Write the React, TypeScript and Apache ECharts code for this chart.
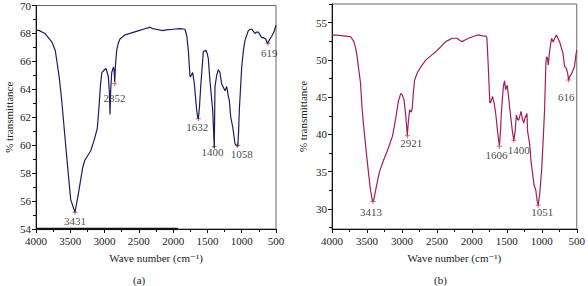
import React, { useEffect, useRef } from "react";
import * as echarts from "echarts";

// Spectrum (a)
const waveA: number[] = [4000,3950,3870,3770,3720,3698,3660,3640,3625,3560,3494,3431,3383,3319,3290,3202,3150,3106,3080,3060,3040,3000,2979,2945,2930,2921,2912,2896,2870,2860,2852,2840,2823,2800,2775,2700,2629,2500,2400,2367,2337,2300,2250,2200,2148,2100,2000,1900,1827,1800,1779,1754,1735,1715,1691,1657,1642,1632,1615,1598,1560,1521,1500,1487,1463,1423,1400,1390,1365,1341,1317,1293,1244,1219,1195,1181,1160,1131,1098,1080,1058,1045,1035,1000,975,952,904,879,855,806,781,757,709,685,650,636,619,600,563,530,500];
const transA: number[] = [68.25,68.2,68.0,67.4,66.8,66.1,64.8,63.9,63.2,59.6,56.1,55.2,56.5,58.4,58.9,59.6,60.4,61.2,62.8,64.3,65.2,65.4,65.5,64.9,63.8,62.2,63.8,65.2,65.6,65.3,64.5,65.8,66.8,67.3,67.6,67.9,68.0,68.2,68.35,68.4,68.45,68.35,68.3,68.25,68.2,68.25,68.3,68.35,68.3,67.8,66.8,64.9,65.0,65.2,64.4,62.5,62.0,61.9,62.8,64.2,66.7,66.8,66.5,66.2,64.6,62.5,59.8,64.2,65.0,65.4,65.2,64.4,63.9,64.2,63.5,63.2,62.0,61.3,60.1,60.0,59.9,61.0,62.5,65.6,66.8,67.5,68.2,68.3,68.3,68.0,68.1,68.1,67.7,67.7,67.6,67.4,67.3,67.5,67.8,68.1,68.6];

// Spectrum (b)
const waveB: number[] = [4000,3900,3800,3733,3687,3660,3640,3615,3592,3570,3546,3520,3480,3450,3420,3400,3370,3321,3260,3204,3134,3086,3050,3016,2995,2970,2945,2923,2910,2890,2865,2853,2835,2819,2773,2720,2656,2580,2516,2450,2375,2281,2211,2170,2140,2090,2046,1960,1906,1840,1800,1785,1765,1743,1729,1705,1681,1658,1624,1606,1590,1578,1550,1532,1518,1494,1480,1456,1423,1400,1380,1363,1345,1329,1297,1280,1259,1240,1212,1203,1175,1166,1156,1133,1110,1086,1065,1051,1030,1002,978,960,941,931,917,907,890,861,838,815,791,744,720,697,674,650,630,617,600,580,533,511,500];
const transB: number[] = [53.35,53.3,53.2,53.1,52.45,51.5,50.4,48.5,46.9,43.5,41.0,38.5,35.0,32.5,31.0,31.3,32.8,35.0,36.6,37.9,39.8,42.3,44.5,45.5,45.3,44.6,42.5,39.9,41.5,43.3,43.0,43.5,45.8,47.3,48.4,49.2,50.0,50.6,51.1,51.7,52.45,52.9,52.9,52.6,52.45,52.7,52.9,53.2,53.35,53.2,53.2,53.0,49.1,44.2,44.3,45.1,44.2,42.7,39.7,38.5,40.5,42.9,46.4,47.2,46.0,46.6,45.5,43.3,40.6,39.2,40.5,42.6,42.0,41.9,43.1,42.2,41.5,42.2,42.8,40.4,38.8,37.9,36.6,34.8,33.2,32.5,31.0,30.5,32.0,35.2,39.7,43.3,49.6,50.4,50.2,49.3,51.0,52.9,52.4,52.9,53.35,52.4,51.6,50.9,49.1,48.9,48.2,47.3,47.8,48.0,49.1,50.7,51.3];

// Peak markers and labels
const peaksA: string[] = ["3431", "2852", "1632", "1400", "1058", "619"];
const peakXA: number[] = [3431, 2852, 1632, 1400, 1058, 619];
const peakYA: number[] = [55.2, 64.4, 61.9, 59.9, 60.0, 67.3];
const labelXA: number[] = [3431, 2856, 1650, 1425, 1000, 600];
const labelYA: number[] = [54.6, 63.4, 61.3, 59.5, 59.4, 66.6];

const peaksB: string[] = ["3413", "2921", "1606", "1400", "1051", "616"];
const peakXB: number[] = [3413, 2921, 1606, 1400, 1051, 616];
const peakYB: number[] = [31.0, 39.8, 38.4, 39.2, 30.5, 47.3];
const labelXB: number[] = [3443, 2867, 1648, 1329, 993, 650];
const labelYB: number[] = [29.6, 38.8, 37.2, 37.9, 29.6, 45.0];

const yTicksB: number[] = [30, 35, 40, 45, 50, 55];
const yMinorB: number[] = [27.5, 32.5, 37.5, 42.5, 47.5, 52.5, 57.5];

const SERIF = "'Liberation Serif', 'DejaVu Serif', serif";
const PLUS = "path://M2,0H3V2H5V3H3V5H2V3H0V2H2Z";

export default function App() {
  const ref = useRef<HTMLDivElement>(null);
  useEffect(() => {
    if (!ref.current) return;
    const chart = echarts.init(ref.current, null, { renderer: "svg" });
    const zip = (a: number[], b: number[]) => a.map((v, i) => [v, b[i]]);
    const plain = (v: number) => String(v);
    const xAxisBase = (gi: number) => ({
      type: "value",
      gridIndex: gi,
      min: 500,
      max: 4000,
      interval: 500,
      inverse: true,
      name: "Wave number (cm\u207B\u00B9)",
      nameLocation: "middle",
      nameGap: 23,
      nameTextStyle: { fontFamily: SERIF, fontSize: 11, color: "#222" },
      axisLine: { lineStyle: { color: "#111", width: 1 } },
      axisTick: { length: 4, lineStyle: { color: "#111" } },
      minorTick: { show: true, splitNumber: 2, length: 3, lineStyle: { color: "#111" } },
      axisLabel: { fontFamily: SERIF, fontSize: 11, color: "#222", margin: 6, formatter: plain },
      splitLine: { show: false },
    });
    const option: any = {
      animation: false,
      grid: [
        { left: 36, right: 312, top: 5, bottom: 57, show: true, borderColor: "#666", borderWidth: 1 },
        { left: 332, right: 7, top: 4, bottom: 57, show: true, borderColor: "#666", borderWidth: 1 },
      ],
      xAxis: [xAxisBase(0), xAxisBase(1)],
      yAxis: [
        {
          type: "value",
          gridIndex: 0,
          position: "left",
          min: 54,
          max: 70,
          interval: 2,
          name: "% transmittance",
          nameLocation: "middle",
          nameGap: 22,
          nameTextStyle: { fontFamily: SERIF, fontSize: 11, color: "#222" },
          axisLine: { show: true, lineStyle: { color: "#111" } },
          axisTick: { show: true, length: 4, lineStyle: { color: "#111" } },
          minorTick: { show: true, splitNumber: 2, length: 3, lineStyle: { color: "#111" } },
          axisLabel: { fontFamily: SERIF, fontSize: 11, color: "#222", margin: 5, formatter: plain },
          splitLine: { show: false },
        },
        {
          type: "value",
          gridIndex: 1,
          position: "left",
          min: 27.3,
          max: 57.5,
          name: "% transmittance",
          nameLocation: "middle",
          nameGap: 24,
          nameTextStyle: { fontFamily: SERIF, fontSize: 11, color: "#222" },
          axisLine: { show: true, lineStyle: { color: "#111" } },
          axisTick: { show: true, length: 4, customValues: yTicksB, lineStyle: { color: "#111" } },
          axisLabel: { fontFamily: SERIF, fontSize: 11, color: "#222", margin: 5, customValues: yTicksB, formatter: plain },
          splitLine: { show: false },
        },
        {
          type: "value",
          gridIndex: 1,
          position: "left",
          offset: 0,
          min: 27.3,
          max: 57.5,
          axisLine: { show: false },
          axisTick: { show: true, length: 3, customValues: yMinorB, lineStyle: { color: "#111" } },
          axisLabel: { show: false, customValues: yMinorB },
          splitLine: { show: false },
        },
      ],
      graphic: [
        { type: "text", left: 133, top: 274, style: { text: "(a)", font: `11px ${SERIF}`, fill: "#222" } },
        { type: "text", left: 434, top: 274, style: { text: "(b)", font: `11px ${SERIF}`, fill: "#222" } },
      ],
      series: [
        {
          type: "line",
          xAxisIndex: 0,
          yAxisIndex: 0,
          data: [[4000, 54], [1930, 54]],
          symbol: "none",
          lineStyle: { color: "#111", width: 2.5 },
          silent: true,
        },
        {
          type: "line",
          xAxisIndex: 0,
          yAxisIndex: 0,
          data: zip(waveA, transA),
          symbol: "none",
          lineStyle: { color: "#1d1d5e", width: 1.2 },
        },
        {
          type: "line",
          xAxisIndex: 1,
          yAxisIndex: 1,
          data: zip(waveB, transB),
          symbol: "none",
          lineStyle: { color: "#a11d5c", width: 1.2 },
        },
        {
          type: "scatter",
          xAxisIndex: 0,
          yAxisIndex: 0,
          symbol: PLUS,
          symbolSize: 5,
          itemStyle: { color: "#d83a3a" },
          data: zip(peakXA, peakYA),
        },
        {
          type: "scatter",
          xAxisIndex: 1,
          yAxisIndex: 1,
          symbol: PLUS,
          symbolSize: 5,
          itemStyle: { color: "#d83a3a" },
          data: zip(peakXB, peakYB),
        },
        {
          type: "scatter",
          xAxisIndex: 0,
          yAxisIndex: 0,
          symbolSize: 1,
          itemStyle: { color: "transparent" },
          label: { show: true, position: "inside", formatter: "{b}", fontFamily: SERIF, fontSize: 11, color: "#111" },
          data: peaksA.map((n, i) => ({ name: n, value: [labelXA[i], labelYA[i]] })),
        },
        {
          type: "scatter",
          xAxisIndex: 1,
          yAxisIndex: 1,
          symbolSize: 1,
          itemStyle: { color: "transparent" },
          label: { show: true, position: "inside", formatter: "{b}", fontFamily: SERIF, fontSize: 11, color: "#111" },
          data: peaksB.map((n, i) => ({ name: n, value: [labelXB[i], labelYB[i]] })),
        },
      ],
    };
    chart.setOption(option);
    return () => chart.dispose();
  }, []);
  return <div ref={ref} style={{ width: 588, height: 286, position: "absolute", left: 0, top: 0 }} />;
}
